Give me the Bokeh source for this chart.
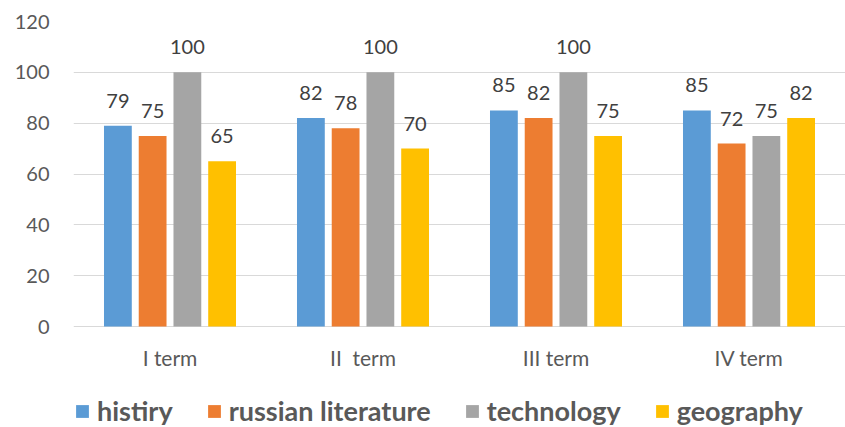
from bokeh.plotting import figure
from bokeh.models import ColumnDataSource, FactorRange, Legend, LegendItem, FixedTicker, Range1d
from bokeh.transform import dodge
from bokeh.core.properties import value
from bokeh.embed import file_html
from bokeh.resources import INLINE

terms = ["I term", "II\u00a0 term", "III term", "IV term"]
subjects = ["histiry", "russian literature", "technology", "geography"]
histiry = [79, 82, 85, 85]
russian_literature = [75, 78, 82, 72]
technology = [100, 100, 100, 75]
geography = [65, 70, 75, 82]
colors = ["#5B9BD5", "#ED7D31", "#A5A5A5", "#FFC000"]
y_ticks = [0, 20, 40, 60, 80, 100, 120]

series = [histiry, russian_literature, technology, geography]
offsets = [-0.27, -0.09, 0.09, 0.27]

FONT = "Lato"
TXT = "#595959"

# frame spans the whole lower area so the legend and category labels sit inside it
y_top = 120
px_per_unit = 305 / 120
y_bottom = -101 / px_per_unit

p = figure(x_range=FactorRange(*terms, range_padding=0), y_range=Range1d(y_bottom, y_top),
           frame_width=772, frame_height=406, output_backend="svg", toolbar_location=None,
           x_axis_location=None,
           min_border_left=73, min_border_right=0, min_border_top=21, min_border_bottom=0)
p.outline_line_color = None
p.background_fill_color = "white"

data = dict(term=terms, zero=[0] * len(terms))
for i, s in enumerate(series):
    data[f"s{i}"] = s
    data[f"l{i}"] = [str(v) for v in s]
src = ColumnDataSource(data)

renderers = []
for i, (name, col, off) in enumerate(zip(subjects, colors, offsets)):
    r = p.vbar(x=dodge("term", off, range=p.x_range), top=f"s{i}", width=0.144, source=src,
               fill_color=col, line_color=None)
    renderers.append(r)
    p.text(x=dodge("term", off, range=p.x_range), y=f"s{i}", text=f"l{i}", source=src,
           text_align="center", text_baseline="alphabetic", y_offset=-25,
           text_font=value(FONT), text_font_size="20px", text_color="#404040")

# category labels under the zero line
p.text(x="term", y="zero", text="term", source=src, text_align="center", text_baseline="middle",
       y_offset=31, text_font=value(FONT), text_font_size="21px", text_color=TXT)

p.yaxis.ticker = FixedTicker(ticks=y_ticks)
p.yaxis.axis_line_color = None
p.yaxis.major_tick_line_color = None
p.yaxis.minor_tick_line_color = None
p.yaxis.major_label_text_font = FONT
p.yaxis.major_label_text_font_size = "20px"
p.yaxis.major_label_text_color = TXT
p.yaxis.major_label_standoff = 18

p.xgrid.grid_line_color = None
p.ygrid.grid_line_color = "#D9D9D9"
p.ygrid.grid_line_width = 1

legend = Legend(items=[LegendItem(label=s, renderers=[r]) for s, r in zip(subjects, renderers)],
                orientation="horizontal", location=(1, 0),
                label_text_font=FONT, label_text_font_style="bold", label_text_font_size="27px",
                label_text_color=TXT, glyph_width=16, glyph_height=16, spacing=33,
                border_line_color=None, background_fill_alpha=0, padding=0, margin=0,
                label_standoff=7)
p.add_layout(legend, "center")

open("out.html", "w").write(file_html(p, INLINE))
